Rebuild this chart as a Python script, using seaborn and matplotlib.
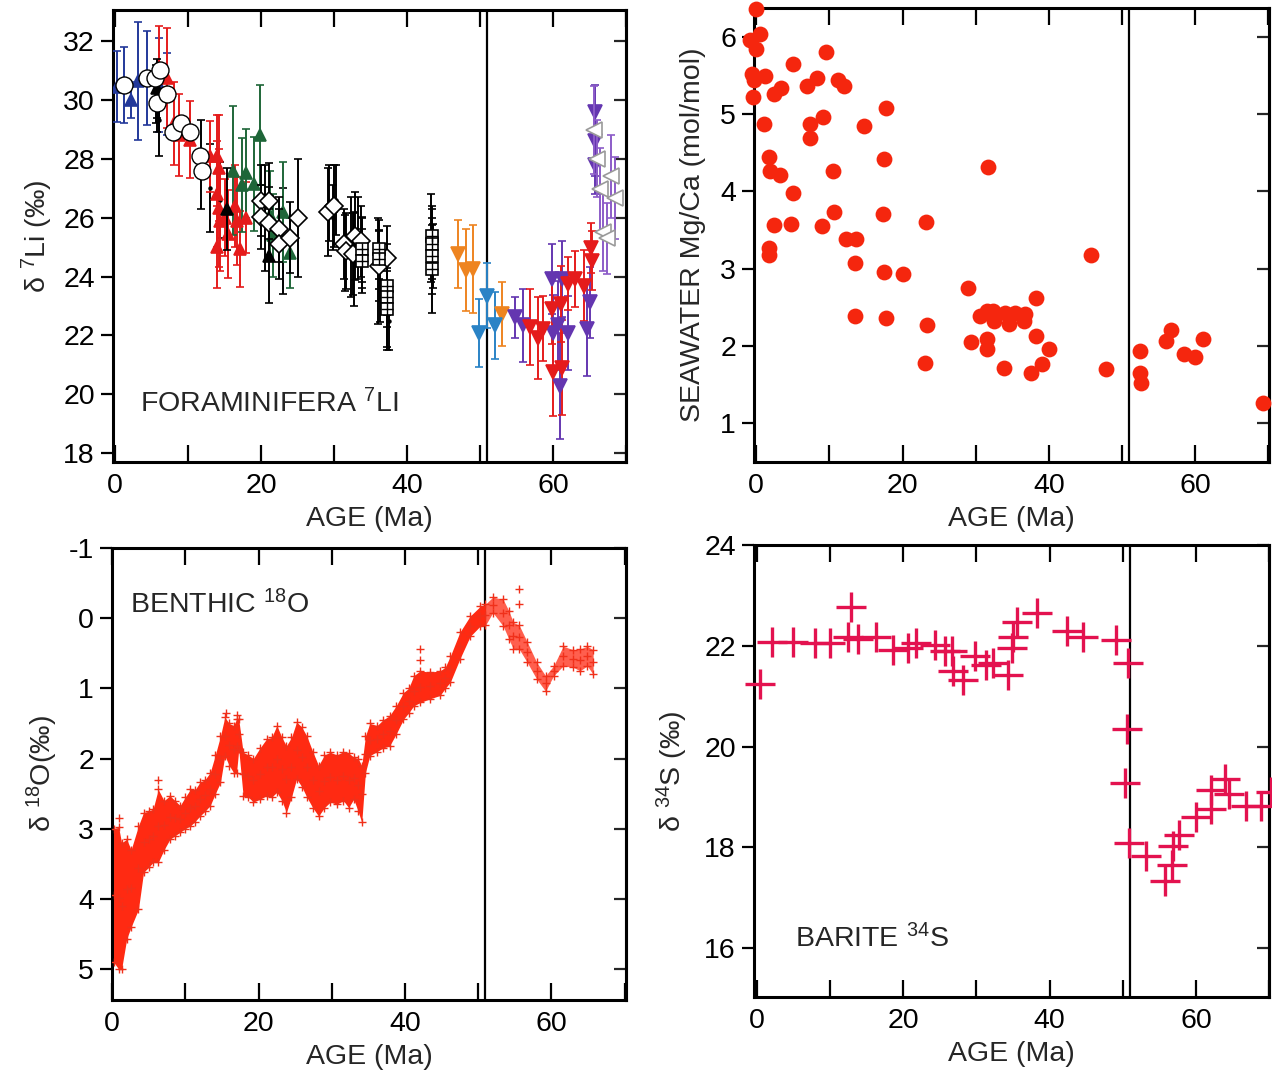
import numpy as np
import pandas as pd
import matplotlib
matplotlib.use("Agg")
import matplotlib.pyplot as plt
from matplotlib.ticker import MultipleLocator, FuncFormatter
import seaborn as sns

# ---------------- DATA ----------------
# Panel A: foraminifera d7Li  (age Ma, value permil, error)
blue_up_age = [0.2, 1.2, 2.2, 3.2, 4.3, 6.0, 7.1]
blue_up_val = [30.45, 30.5, 30.0, 30.65, 30.75, 30.5, 30.2]
blue_up_err = [1.2, 1.3, 0.6, 2.0, 1.6, 1.6, 1.4]

circle_age = [1.2, 4.3, 5.4, 6.1, 5.7, 7.1, 7.9, 9.0, 10.2, 11.6, 11.9]
circle_val = [30.5, 30.75, 30.75, 31.0, 29.9, 30.2, 28.9, 29.2, 28.9, 28.1, 27.6]

blackdot_age = [5.6, 5.8, 6.0, 11.8, 13.0, 14.4, 20.5, 23.0, 29.3, 29.8, 30.2, 31.5,
                32.3, 32.8, 33.3, 33.8, 36.0, 36.3, 37.3, 37.5, 43.3, 43.6]
blackdot_val = [30.2, 29.7, 29.3, 27.8, 27.0, 26.6, 26.0, 25.2, 26.5, 26.0, 26.6, 24.8,
                25.0, 24.6, 25.3, 24.8, 24.2, 23.75, 23.3, 22.5, 25.3, 24.7]
blackdot_err = [1.0, 0.8, 1.2, 1.5, 1.5, 1.3, 1.8, 1.8, 1.3, 1.1, 1.2, 1.3,
                1.7, 1.6, 1.4, 1.2, 1.8, 1.3, 1.8, 1.0, 1.5, 1.1]

blackup_age = [5.7, 15.3, 21.1]
blackup_val = [30.4, 26.3, 24.7]
blackup_err = [1.0, 1.4, 1.6]

red_up_age = [6.0, 7.1, 8.0, 8.8, 10.2, 13.0, 13.9, 14.2, 13.9, 14.2, 14.4, 13.9,
              15.1, 15.5, 16.4, 16.7, 17.1, 18.0]
red_up_val = [31.1, 30.73, 29.2, 28.8, 28.65, 28.08, 28.1, 27.69, 26.79, 26.34, 25.89, 25.0,
              26.0, 25.44, 26.39, 25.89, 24.93, 26.0]
red_up_err = [1.4, 1.7, 1.4, 1.4, 1.3, 1.2, 1.4, 1.8, 1.8, 2.0, 1.7, 1.4,
              1.3, 1.5, 1.4, 1.5, 1.3, 1.2]

green_age = [16.2, 17.4, 18.0, 19.0, 19.9, 21.2, 21.7, 23.0, 24.0]
green_val = [27.6, 27.1, 27.5, 27.15, 28.8, 26.1, 25.4, 26.2, 24.8]
green_err = [2.2, 1.6, 1.5, 1.6, 1.7, 1.5, 1.4, 1.7, 1.2]

diamond_age = [20.0, 21.1, 20.0, 21.1, 22.5, 22.5, 23.9, 25.1, 29.2, 30.0, 31.4, 31.6,
               32.9, 32.6, 33.7, 36.1, 37.3]
diamond_val = [26.58, 26.56, 26.02, 25.83, 25.6, 25.1, 25.32, 25.98, 26.2, 26.39, 25.1, 24.87,
               25.38, 24.76, 25.2, 24.36, 24.62]
diamond_err = [1.2, 1.3, 1.1, 1.2, 1.1, 1.2, 1.2, 2.0, 1.5, 1.4, 1.2, 1.3,
               1.5, 1.4, 1.2, 1.2, 1.1]

square_age = [33.8, 33.8, 36.1, 36.1, 37.3, 37.3, 37.3, 43.4, 43.4, 43.4, 43.4]
square_val = [24.93, 24.53, 24.93, 24.59, 23.69, 23.29, 22.9, 25.38, 25.1, 24.7, 24.25]
square_err = [1.1, 1.1, 1.0, 1.0, 1.0, 1.0, 1.3, 1.0, 1.2, 1.3, 1.5]

orange_age = [47.0, 48.1, 49.1, 53.0]
orange_val = [24.76, 24.22, 24.25, 22.73]
orange_err = [1.15, 1.4, 1.5, 1.1]

cyan_age = [49.8, 51.0, 52.1]
cyan_val = [22.08, 23.35, 22.34]
cyan_err = [1.15, 1.1, 1.15]

purple_age = [54.8, 55.9, 59.8, 61.3, 60.0, 60.7, 62.0, 61.0, 64.6, 65.1, 65.7, 65.7, 65.8]
purple_val = [22.62, 22.34, 23.92, 23.92, 22.08, 22.34, 22.08, 20.28, 22.23, 23.12, 29.6, 28.6, 27.8]
purple_err = [0.7, 1.25, 1.2, 1.3, 1.3, 1.5, 1.25, 1.8, 1.6, 1.2, 0.9, 1.2, 1.0]

red_down_age = [56.8, 58.0, 58.6, 59.8, 60.0, 61.1, 61.2, 62.0, 63.0, 64.2, 65.2, 65.3]
red_down_val = [22.28, 21.92, 22.23, 22.9, 20.76, 23.07, 20.91, 23.75, 23.92, 23.69, 24.96, 24.53]
red_down_err = [1.3, 1.4, 1.1, 1.2, 1.5, 1.3, 1.6, 0.9, 0.95, 1.2, 0.85, 1.0]

lilac_age = [65.6, 66.1, 66.4, 66.9, 67.4, 68.0, 68.5]
lilac_val = [28.98, 28.0, 26.96, 25.5, 25.3, 27.4, 26.67]
lilac_err = [1.5, 1.3, 1.4, 1.3, 1.2, 1.4, 1.4]

# Panel B: seawater Mg/Ca
mgca_age = [-0.1, 0.55, -0.8, 0.0, -0.6, -0.35, 1.23, -0.5, 2.36, 3.37, 5.0, 6.9, 8.3, 9.55,
            11.2, 12.0, 1.0, 7.4, 7.4, 9.1, 14.7, 17.8, 1.8, 1.9, 3.3, 10.5, 17.5, 31.7,
            5.0, 10.6, 17.3, 2.36, 4.7, 9.0, 23.2, 12.3, 13.6, 1.7, 1.7, 13.5, 17.5, 20.0,
            29.0, 13.5, 17.8, 23.4, 30.6, 31.5, 32.4, 32.5, 34.0, 34.6, 35.3, 29.3, 31.5,
            31.5, 23.1, 33.8, 36.7, 36.6, 38.2, 38.2, 40.0, 39.0, 37.5, 45.7, 47.8, 52.4,
            52.5, 52.6, 56.0, 56.7, 58.5, 60.0, 61.1, 69.3]
mgca_val = [6.37, 6.04, 5.96, 5.85, 5.53, 5.44, 5.50, 5.22, 5.26, 5.34, 5.65, 5.37, 5.47, 5.81,
            5.44, 5.37, 4.88, 4.88, 4.69, 4.97, 4.85, 5.08, 4.45, 4.26, 4.22, 4.26, 4.42, 4.32,
            3.98, 3.73, 3.71, 3.57, 3.58, 3.55, 3.60, 3.39, 3.39, 3.27, 3.17, 3.07, 2.96, 2.93,
            2.75, 2.38, 2.36, 2.27, 2.38, 2.45, 2.45, 2.32, 2.42, 2.28, 2.42, 2.05, 2.09,
            1.96, 1.78, 1.71, 2.41, 2.32, 2.62, 2.12, 1.96, 1.76, 1.64, 3.18, 1.70, 1.93,
            1.65, 1.51, 2.06, 2.20, 1.89, 1.85, 2.09, 1.25]

# Panel C: benthic d18O envelope (age, lowest value, highest value)
o18_age = [0.2, 0.9, 1.3, 2.0, 2.6, 3.6, 4.3, 5.0, 5.6, 6.3, 7.1, 7.9, 8.6, 9.3, 10.0, 10.7,
           11.3, 12.0, 12.7, 13.4, 14.1, 14.8, 15.4, 16.0, 16.6, 17.0, 17.3, 17.9, 18.6, 19.3,
           20.2, 21.1, 21.8, 22.5, 23.2, 23.8, 24.5, 25.2, 25.9, 26.6, 27.4, 28.2, 29.0, 29.8,
           30.7, 31.6, 32.3, 33.0, 33.6, 34.1, 34.6, 35.2, 36.2, 37.0, 37.9, 38.8, 39.8, 40.5,
           41.2, 42.1, 43.4, 44.8, 45.5, 46.2, 47.5, 48.9, 50.3, 51.0, 52.0, 53.4, 54.2, 54.8,
           55.6, 56.7, 58.0, 59.2, 60.3, 61.6, 63.0, 63.9, 64.9, 65.7]
o18_lo = [3.0, 2.98, 3.2, 3.15, 3.3, 2.96, 2.77, 2.75, 2.72, 2.44, 2.6, 2.53, 2.6, 2.67, 2.55, 2.44,
          2.45, 2.34, 2.3, 2.2, 1.95, 1.68, 1.41, 1.5, 1.53, 1.44, 1.44, 1.91, 1.95, 2.0,
          1.85, 1.72, 1.7, 1.53, 1.7, 1.82, 1.7, 1.48, 1.55, 1.68, 1.9, 2.1, 1.95, 1.91,
          1.95, 1.9, 1.92, 1.98, 2.0, 2.1, 1.68, 1.5, 1.53, 1.45, 1.39, 1.25, 1.06, 1.0,
          0.82, 0.75, 0.77, 0.75, 0.7, 0.54, 0.2, -0.03, -0.17, -0.2, -0.3, -0.27, -0.1, 0.06,
          0.1, 0.34, 0.63, 0.82, 0.68, 0.4, 0.45, 0.44, 0.4, 0.45]
o18_hi = [4.9, 5.0, 5.0, 4.57, 4.4, 4.15, 3.62, 3.55, 3.48, 3.48, 3.3, 3.15, 3.1, 3.05, 3.0, 2.96,
          2.9, 2.82, 2.75, 2.67, 2.5, 2.34, 1.96, 2.1, 2.2, 2.2, 1.87, 2.53, 2.55, 2.62,
          2.58, 2.53, 2.55, 2.48, 2.6, 2.77, 2.55, 2.29, 2.4, 2.55, 2.7, 2.82, 2.7, 2.62,
          2.65, 2.6, 2.7, 2.58, 2.75, 2.91, 2.2, 1.96, 1.9, 1.85, 1.82, 1.65, 1.44, 1.35,
          1.25, 1.2, 1.15, 1.1, 1.0, 0.91, 0.58, 0.26, 0.11, 0.1, -0.08, 0.11, 0.3, 0.44,
          0.44, 0.63, 0.87, 1.04, 0.82, 0.68, 0.7, 0.75, 0.68, 0.8]
# isolated excursions visible above the band
o18_spike_age = [42.1, 42.1, 55.6, 55.6, 1.0, 6.3, 15.6, 17.0]
o18_spike_val = [0.44, 0.6, -0.42, -0.2, 2.85, 2.3, 1.35, 1.38]

# Panel D: barite d34S
s34_age = [0.4, 2.1, 4.9, 7.9, 10.0, 12.9, 12.5, 13.8, 16.2, 18.6, 20.6, 21.7, 24.3, 25.7,
           26.6, 26.8, 28.2, 29.8, 31.3, 32.3, 34.3, 34.8, 35.0, 35.5, 38.2, 42.3, 44.5, 49.0,
           50.7, 50.5, 50.3, 50.9, 53.2, 55.7, 56.7, 56.8, 57.7, 60.0, 62.0, 62.0, 63.9, 64.5,
           66.8, 68.9, 70.3]
s34_val = [21.25, 22.07, 22.07, 22.05, 22.05, 22.77, 22.17, 22.13, 22.17, 21.92, 21.95, 22.05,
           22.02, 21.89, 21.9, 21.49, 21.33, 21.79, 21.62, 21.65, 21.42, 21.95, 22.18, 22.48,
           22.65, 22.30, 22.17, 22.12, 21.66, 20.34, 19.28, 18.09, 17.83, 17.33, 17.64, 18.03,
           18.24, 18.61, 18.77, 19.13, 19.35, 19.05, 18.82, 18.82, 19.1]

boundary_age = 51.0

# ---------------- STYLE ----------------
sns.set_theme(style="ticks")
plt.rcParams["font.family"] = ["Liberation Sans", "DejaVu Sans"]
plt.rcParams["mathtext.fontset"] = "custom"
plt.rcParams["mathtext.rm"] = "Liberation Sans"
plt.rcParams["mathtext.it"] = "Liberation Sans:italic"
plt.rcParams["mathtext.bf"] = "Liberation Sans:bold"
plt.rcParams["axes.unicode_minus"] = False
FS = 20.5

fig = plt.figure(figsize=(12.72, 10.72), dpi=100)
axA = fig.add_axes([0.0888, 0.569, 0.4033, 0.4216])
axB = fig.add_axes([0.5928, 0.569, 0.4050, 0.4235])
axC = fig.add_axes([0.0881, 0.0672, 0.4041, 0.4216])
axD = fig.add_axes([0.5928, 0.0700, 0.4050, 0.4216])

xfmt = FuncFormatter(lambda v, p: f"{int(round(v))}" if int(round(v)) % 20 == 0 else "")


def style_axes(ax, xlim, ylim, ystep):
    ax.set_xlim(*xlim)
    ax.set_ylim(*ylim)
    for s in ax.spines.values():
        s.set_linewidth(2.2)
        s.set_color("black")
        s.set_visible(True)
    ax.xaxis.set_major_locator(MultipleLocator(10))
    ax.xaxis.set_major_formatter(xfmt)
    ax.yaxis.set_major_locator(MultipleLocator(ystep))
    ax.tick_params(axis="x", direction="in", top=True, bottom=True, length=12, width=1.6,
                   labelsize=FS, pad=8, colors="black")
    ax.tick_params(axis="y", direction="out", right=False, left=True, length=9, width=1.6,
                   labelsize=FS, pad=4, colors="black")
    sec = ax.secondary_yaxis("right")
    sec.yaxis.set_major_locator(MultipleLocator(ystep))
    sec.tick_params(direction="in", length=9, width=1.6, labelright=False)
    sec.spines["right"].set_linewidth(2.2)
    ax.set_xlabel("AGE (Ma)", fontsize=FS, labelpad=5)
    ax.axvline(boundary_age, color="black", lw=1.6, zorder=1)


# ---------------- Panel A ----------------
def ebar(ax, x, y, e, color, marker, ms, mfc=None, mec=None, z=3):
    ax.errorbar(x, y, yerr=e, fmt=marker, color=color, ms=ms,
                mfc=mfc if mfc is not None else color,
                mec=mec if mec is not None else color,
                ecolor=color, elinewidth=1.4, capsize=3, capthick=1.4, mew=1.2, zorder=z)


ebar(axA, blue_up_age, blue_up_val, blue_up_err, "#22389A", "^", 9)
ebar(axA, blackdot_age, blackdot_val, blackdot_err, "black", ".", 4)
ebar(axA, red_up_age, red_up_val, red_up_err, "#E51B1B", "^", 9)
ebar(axA, green_age, green_val, green_err, "#1E6638", "^", 9)
ebar(axA, blackup_age, blackup_val, blackup_err, "black", "^", 9, z=4)
ebar(axA, diamond_age, diamond_val, diamond_err, "black", "D", 9, mfc="white", z=4)
ebar(axA, square_age, square_val, square_err, "black", "s", 9, mfc="white", z=4)
axA.plot(square_age, square_val, "+", color="black", ms=9, mew=1.0, zorder=5)
ebar(axA, orange_age, orange_val, orange_err, "#EE8420", "v", 10)
ebar(axA, cyan_age, cyan_val, cyan_err, "#2A83C6", "v", 10)
ebar(axA, purple_age, purple_val, purple_err, "#6436B0", "v", 10)
ebar(axA, red_down_age, red_down_val, red_down_err, "#E51B1B", "v", 10)
ebar(axA, lilac_age, lilac_val, lilac_err, "#8C5CC8", "<", 11, mfc="white", mec="#9A9A9A", z=4)
sns.scatterplot(x=circle_age, y=circle_val, ax=axA, marker="o", s=150, facecolor="white",
                edgecolor="black", linewidth=1.0, zorder=6, legend=False)

style_axes(axA, (-0.3, 70.0), (17.7, 33.05), 2)
axA.set_ylabel("δ $^{7}$Li (‰)", fontsize=FS, labelpad=6)
axA.text(0.053, 0.128, "FORAMINIFERA $^{7}$LI", transform=axA.transAxes, fontsize=FS,
         va="center", ha="left")

# ---------------- Panel B ----------------
sns.scatterplot(x=mgca_age, y=mgca_val, ax=axB, s=130, color="#F5260E", edgecolor="#F5260E",
                linewidth=0, zorder=3, clip_on=False, legend=False)
style_axes(axB, (-0.3, 70.1), (0.49, 6.38), 1)
axB.set_ylabel("SEAWATER Mg/Ca (mol/mol)", fontsize=FS, labelpad=10)

# ---------------- Panel C ----------------
o18 = pd.DataFrame({"age": o18_age, "lo": o18_lo, "hi": o18_hi})
o18["mid"] = (o18["lo"] + o18["hi"]) / 2
young = o18[o18["age"] <= 51.0]
old = o18[o18["age"] >= 51.0]
axC.fill_between(young["age"], young["lo"], young["hi"], color="#FF2A12", lw=0, zorder=2)
axC.fill_between(old["age"], old["lo"], old["hi"], color="#FF2A12", alpha=0.75, lw=0, zorder=2)
for col in ["lo", "hi", "mid"]:
    sns.scatterplot(x=o18["age"], y=o18[col], ax=axC, marker="+", s=35, color="#F0301A",
                    linewidth=1.0, zorder=3, legend=False)
sns.scatterplot(x=o18_spike_age, y=o18_spike_val, ax=axC, marker="+", s=35, color="#F0301A",
                linewidth=1.0, zorder=3, legend=False)
style_axes(axC, (0, 70.2), (5.44, -1.0), 1)
axC.set_ylabel("δ $^{18}$O(‰)", fontsize=FS, labelpad=6)
axC.text(0.035, 0.874, "BENTHIC $^{18}$O", transform=axC.transAxes, fontsize=FS,
         va="center", ha="left")

# ---------------- Panel D ----------------
sns.scatterplot(x=s34_age, y=s34_val, ax=axD, marker="+", s=480, color="#E3124F",
                linewidth=2.4, zorder=3, clip_on=False, legend=False)
style_axes(axD, (-0.4, 70.0), (15.03, 24.0), 2)
axD.set_ylabel("δ $^{34}$S (‰)", fontsize=FS, labelpad=10)
axD.text(0.0795, 0.13, "BARITE $^{34}$S", transform=axD.transAxes, fontsize=FS,
         va="center", ha="left")

fig.savefig("out.png", dpi=100)
